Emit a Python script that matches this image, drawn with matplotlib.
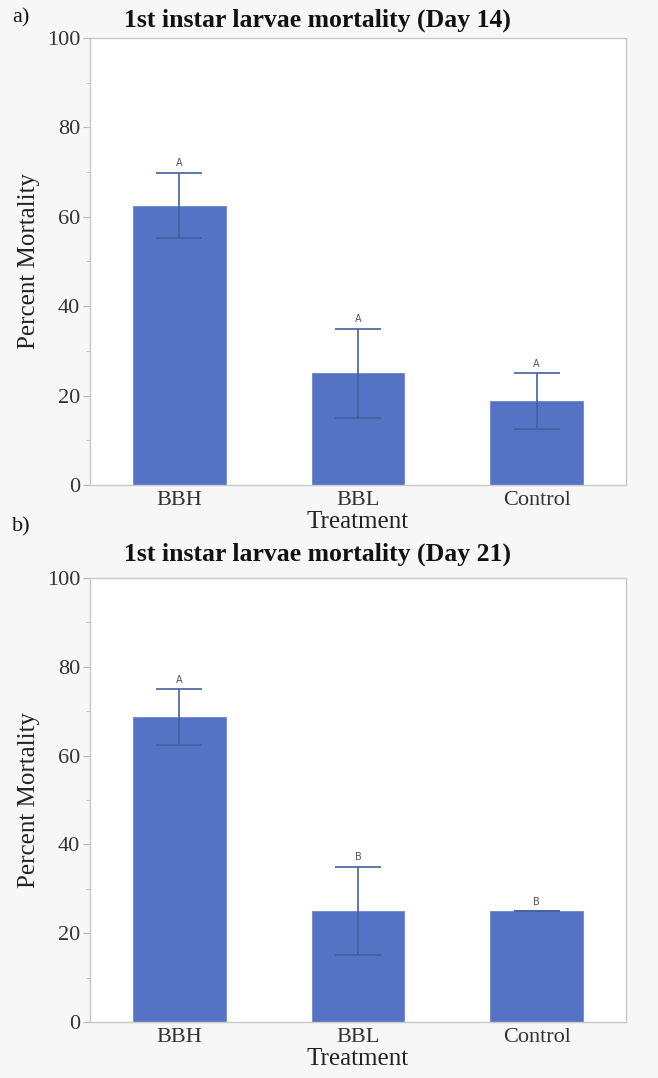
import numpy as np
import matplotlib
matplotlib.use('Agg')
import matplotlib.pyplot as plt
from matplotlib.ticker import MultipleLocator

# Data
treatments = ['BBH', 'BBL', 'Control']
day14_mean = [62.5, 25.0, 18.75]
day14_err = [7.3, 10.0, 6.25]
day14_letters = ['A', 'A', 'A']
day21_mean = [68.75, 25.0, 25.0]
day21_err = [6.25, 10.0, 0.0]
day21_letters = ['A', 'B', 'B']

serif = ['Liberation Serif', 'DejaVu Serif']
bar_color = '#5473c4'
err_color = '#44609f'
grey = '#b8b8b8'
H = 1078.0

fig = plt.figure(figsize=(6.58, 10.78), dpi=100, facecolor='#f7f7f7')


def panel(rect, means, errs, letters, title, title_y, tag, tag_y):
    ax = fig.add_axes(rect)
    ax.set_facecolor('white')
    x = np.arange(len(treatments))
    ax.bar(x, means, width=0.52, color=bar_color, edgecolor='#6a86d0', linewidth=0.6, zorder=2)
    ax.errorbar(x, means, yerr=errs, fmt='none', ecolor=err_color, elinewidth=1.2,
                capsize=16.5, capthick=1.2, zorder=3)
    for xi, m, e, lab in zip(x, means, errs, letters):
        ax.text(xi, m + e + 1.0, lab, ha='center', va='bottom', fontsize=7,
                color='#555555', family=['DejaVu Sans'])
    ax.set_xlim(-0.5, 2.5)
    ax.set_ylim(0, 100)
    ax.set_xticks(x)
    ax.set_xticklabels(treatments, family=serif, fontsize=16)
    ax.yaxis.set_major_locator(MultipleLocator(20))
    ax.yaxis.set_minor_locator(MultipleLocator(10))
    for lbl in ax.get_yticklabels():
        lbl.set_family(serif)
        lbl.set_fontsize(16)
    ax.tick_params(axis='x', length=0, pad=4, colors='#333333')
    ax.tick_params(axis='y', which='major', length=5, pad=2, color=grey, labelcolor='#333333')
    ax.tick_params(axis='y', which='minor', length=3, color=grey)
    for s in ax.spines.values():
        s.set_color('#c8c8c8')
        s.set_linewidth(1.0)
    ax.set_xlabel('Treatment', family=serif, fontsize=18, labelpad=1, color='#222222')
    ax.set_ylabel('Percent Mortality', family=serif, fontsize=18, labelpad=5, color='#222222')
    fig.text(317 / 658, 1 - title_y / H, title, family=serif, fontsize=18.5, fontweight='bold',
             ha='center', va='center', color='#111111')
    fig.text(12 / 658, 1 - tag_y / H, tag, family=serif, fontsize=16,
             ha='left', va='center', color='#111111')
    return ax


panel([0.1368, 0.5501, 0.8146, 0.4147], day14_mean, day14_err, day14_letters,
      '1st instar larvae mortality (Day 14)', 20, 'a)', 18)
panel([0.1368, 0.0519, 0.8146, 0.4119], day21_mean, day21_err, day21_letters,
      '1st instar larvae mortality (Day 21)', 554, 'b)', 527)

fig.savefig('out.png', dpi=100, facecolor=fig.get_facecolor())
